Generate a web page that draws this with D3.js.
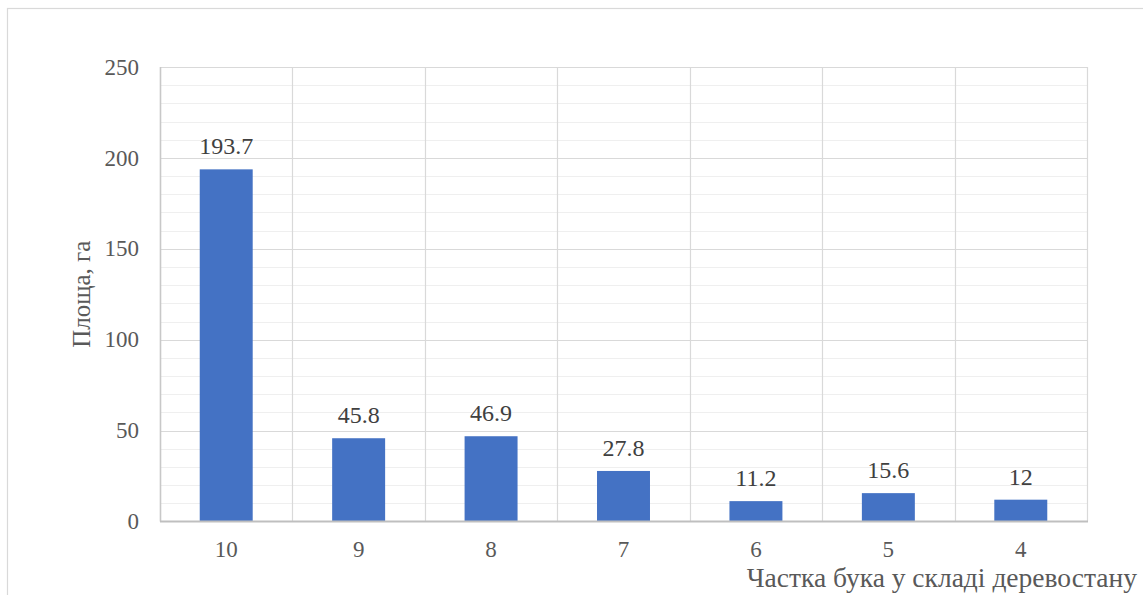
<!DOCTYPE html>
<html>
<head>
<meta charset="utf-8">
<script src="https://cdn.jsdelivr.net/npm/d3@7"></script>
<style>
  html, body { margin: 0; padding: 0; background: #fff; }
  svg text { font-family: "Liberation Serif", "Times New Roman", serif !important; }
</style>
</head>
<body>
<svg id="chart" width="1143" height="595"></svg>
<script>
// Beech share in stand composition vs. area
const categories = ["10", "9", "8", "7", "6", "5", "4"];
const values = [193.7, 45.8, 46.9, 27.8, 11.2, 15.6, 12];
const yTicks = [0, 50, 100, 150, 200, 250];
const yTitle = "Площа, га";
const xTitle = "Частка бука у складі деревостану";

const svg = d3.select("#chart");
const W = 1143, H = 595;
const plot = { left: 160, top: 67, right: 1087, bottom: 521.5 };
const serif = '"Liberation Serif", "Times New Roman", serif';

// Outer chart frame
svg.append("rect")
  .attr("x", 7.5).attr("y", 8.5)
  .attr("width", W + 10).attr("height", H + 10)
  .attr("fill", "#fff").attr("stroke", "#d9d9d9").attr("stroke-width", 1.2);

const x = d3.scaleBand().domain(categories).range([plot.left, plot.right]).paddingInner(0).paddingOuter(0);
const y = d3.scaleLinear().domain([0, 250]).range([plot.bottom, plot.top]);

const g = svg.append("g");

// Minor gridlines every 10
const minor = d3.range(10, 250, 10).filter(v => v % 50 !== 0);
g.selectAll("line.minor").data(minor).enter().append("line")
  .attr("x1", plot.left).attr("x2", plot.right)
  .attr("y1", d => Math.round(y(d)) + 0.5).attr("y2", d => Math.round(y(d)) + 0.5)
  .attr("stroke", "#efefef").attr("stroke-width", 1);

// Major gridlines
g.selectAll("line.major").data(yTicks.slice(1)).enter().append("line")
  .attr("x1", plot.left).attr("x2", plot.right)
  .attr("y1", d => Math.round(y(d)) + 0.5).attr("y2", d => Math.round(y(d)) + 0.5)
  .attr("stroke", "#d9d9d9").attr("stroke-width", 1.2);

// Vertical category separators
const seps = categories.map(c => x(c)).concat([plot.right]);
g.selectAll("line.vsep").data(seps).enter().append("line")
  .attr("x1", d => Math.round(d) + 0.5).attr("x2", d => Math.round(d) + 0.5)
  .attr("y1", plot.top).attr("y2", plot.bottom)
  .attr("stroke", "#d9d9d9").attr("stroke-width", 1.2);

// Bars
const barW = x.bandwidth() * 0.4;
g.selectAll("rect.bar").data(values).enter().append("rect")
  .attr("x", (d, i) => x(categories[i]) + (x.bandwidth() - barW) / 2)
  .attr("y", d => y(d))
  .attr("width", barW)
  .attr("height", d => y(0) - y(d))
  .attr("fill", "#4472c4");

// Left axis line and bottom axis line
g.append("line")
  .attr("x1", plot.left + 0.5).attr("x2", plot.left + 0.5)
  .attr("y1", plot.top).attr("y2", plot.bottom)
  .attr("stroke", "#c8c8c8").attr("stroke-width", 1.5);
g.append("line")
  .attr("x1", plot.left).attr("x2", plot.right + 1)
  .attr("y1", plot.bottom).attr("y2", plot.bottom)
  .attr("stroke", "#bfbfbf").attr("stroke-width", 1.8);

// Y tick labels
const yAxis = d3.axisLeft(y).tickValues(yTicks).tickSize(0).tickPadding(21);
const ya = svg.append("g").attr("transform", `translate(${plot.left},0)`).call(yAxis)
  .attr("font-family", serif);
ya.select(".domain").remove();
ya.selectAll("text")
  .attr("font-size", 23).attr("fill", "#595959").attr("dy", "0.31em");

// X tick labels
const xAxis = d3.axisBottom(x).tickSize(0).tickPadding(19);
const xa = svg.append("g").attr("transform", `translate(0,${plot.bottom})`).call(xAxis)
  .attr("font-family", serif);
xa.select(".domain").remove();
xa.selectAll("text")
  .attr("font-size", 23).attr("fill", "#595959");

// Data labels
g.selectAll("text.val").data(values).enter().append("text")
  .attr("x", (d, i) => x(categories[i]) + x.bandwidth() / 2)
  .attr("y", d => y(d) - 15)
  .attr("text-anchor", "middle")
  .attr("font-family", serif)
  .attr("font-size", 24).attr("fill", "#404040")
  .text(d => String(d));

// Axis titles
svg.append("text")
  .attr("transform", `translate(90,${(plot.top + plot.bottom) / 2}) rotate(-90)`)
  .attr("text-anchor", "middle")
  .attr("font-family", serif)
  .attr("font-size", 25).attr("fill", "#595959")
  .text(yTitle);

svg.append("text")
  .attr("x", 1137).attr("y", 587)
  .attr("text-anchor", "end")
  .attr("font-family", serif)
  .attr("font-size", 27.5).attr("fill", "#595959")
  .text(xTitle);
</script>
</body>
</html>
